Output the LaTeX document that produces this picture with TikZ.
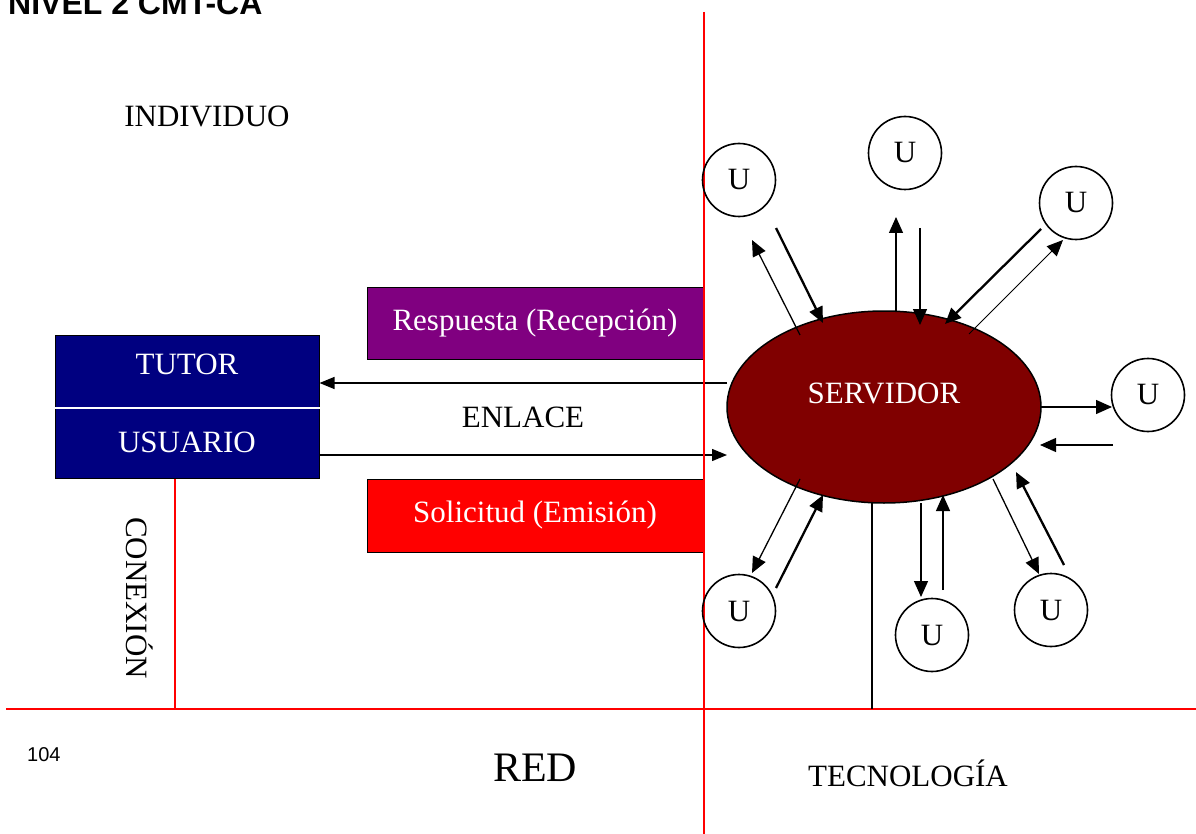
\documentclass[tikz,border=0pt]{standalone}
\usepackage{fontspec}
\setmainfont{Liberation Serif}
\newfontfamily\arialfont{Liberation Sans}
\usetikzlibrary{arrows.meta,shapes.geometric}
\definecolor{navybox}{HTML}{000080}
\definecolor{purplebox}{HTML}{800080}
\definecolor{redbox}{HTML}{FF0000}
\definecolor{servercol}{HTML}{800000}
\begin{document}
\begin{tikzpicture}[x=1pt,y=-1pt,
  txt/.style={font=\fontsize{31}{36}\selectfont, inner sep=0pt},
  wtxt/.style={txt, text=white},
  panel/.style={draw=black, line width=1pt, inner sep=0pt},
  axis/.style={draw=red, line width=1.5pt},
  ucirc/.style={circle, draw=black, line width=1.6pt, minimum size=73pt, inner sep=0pt, font=\fontsize{31}{36}\selectfont},
  thinarr/.style={line width=1.3pt, -{Triangle[length=16pt,width=14pt]}},
  thickarr/.style={line width=2.3pt, -{Triangle[length=16pt,width=14pt]}},
  linkarr/.style={line width=1.3pt, -{Triangle[length=15pt,width=12pt]}}
]
\clip (0,0) rectangle (1196,834);
\fill[white] (0,0) rectangle (1196,834);

% heading and page number
\node[anchor=base west, inner sep=0pt, font=\arialfont\bfseries\fontsize{32}{36}\selectfont] (title) at (8,15) {NIVEL 2 CMT-CA};
\node[anchor=base west, inner sep=0pt, font=\arialfont\fontsize{20}{24}\selectfont] (page) at (27,761) {104};

% quadrant labels
\node[txt] (indiv) at (207,116) {INDIVIDUO};
\node[txt, font=\fontsize{42}{48}\selectfont] (red) at (535,768) {RED};
\node[txt] (tecno) at (908,773) {TECNOLOGÍA};
\node[txt, rotate=-90] (conex) at (140,598) {CONEXIÓN};

% tutor / user block
\node[panel, fill=navybox, minimum width=264pt, minimum height=143pt] (box) at (187,406.5) {};
\draw[white, line width=1.3pt] (box.west |- 0,408) -- (box.east |- 0,408);
\node[wtxt] (tutor) at (187,364) {TUTOR};
\node[wtxt] (usuario) at (187,442) {USUARIO};

% request / response bars
\node[panel, fill=purplebox, minimum width=336pt, minimum height=72pt] (resp) at (535,323) {};
\node[wtxt] at (resp.center) {Respuesta (Recepción)};
\node[panel, fill=redbox, minimum width=336pt, minimum height=73pt] (sol) at (535,515.5) {};
\node[wtxt] at (sol.center) {Solicitud (Emisión)};
\node[txt] (enlace) at (523,417) {ENLACE};

% server
\node[ellipse, draw=black, line width=1.5pt, fill=servercol, minimum width=314pt, minimum height=192pt, inner sep=0pt] (srv) at (884,407) {};
\node[wtxt] (srvtxt) at (884,393) {SERVIDOR};

% link arrows between block and server
\coordinate (srvA) at (727,383);
\coordinate (srvB) at (727,455);
\draw[linkarr] (srvA) -- (box.east |- srvA);
\draw[linkarr] (box.east |- srvB) -- (srvB);

% quadrant axes
\draw[axis] (704,12) -- (704,834);
\draw[axis] (6,709) -- (1196,709);
\draw[axis] (box.south -| 175,0) -- (175,709);
\draw[black, line width=1.3pt] (872,503) -- (872,709);

% users
\node[ucirc] (u1) at (739,180) {U};
\node[ucirc] (u2) at (905,153) {U};
\node[ucirc] (u3) at (1076,203) {U};
\node[ucirc] (u4) at (1148,395) {U};
\node[ucirc] (u5) at (1051,610) {U};
\node[ucirc] (u6) at (932,635) {U};
\node[ucirc] (u7) at (739,611) {U};

% end points of the user exchanges
\coordinate (a1s) at (800,335); \coordinate (a1e) at (752,240);
\coordinate (b1s) at (776,228); \coordinate (b1e) at (823,323);
\coordinate (a2s) at (896,312); \coordinate (a2e) at (896,217);
\coordinate (b2s) at (920,228); \coordinate (b2e) at (920,325);
\coordinate (b3s) at (1041,229); \coordinate (b3e) at (945,324);
\coordinate (a3s) at (969,334); \coordinate (a3e) at (1063,240);
\coordinate (a4s) at (1040,407); \coordinate (a4e) at (1112,407);
\coordinate (b4s) at (1113,445); \coordinate (b4e) at (1040,445);
\coordinate (a5s) at (993,479); \coordinate (a5e) at (1039,574);
\coordinate (b5s) at (1064,565); \coordinate (b5e) at (1016,472);
\coordinate (a6s) at (921,503); \coordinate (a6e) at (921,597);
\coordinate (b6s) at (943,590); \coordinate (b6e) at (943,495);
\coordinate (a7s) at (800,479); \coordinate (a7e) at (752,573);
\coordinate (b7s) at (776,588); \coordinate (b7e) at (823,495);

\draw[thinarr] (a1s) -- (a1e);
\draw[thickarr] (b1s) -- (b1e);
\draw[thinarr] (a2s) -- (a2e);
\draw[thinarr] (b2s) -- (b2e);
\draw[thickarr] (b3s) -- (b3e);
\draw[line width=1pt, -{Triangle[length=16pt,width=14pt]}] (a3s) -- (a3e);
\draw[thinarr] (a4s) -- (a4e);
\draw[thinarr] (b4s) -- (b4e);
\draw[thinarr] (a5s) -- (a5e);
\draw[thickarr] (b5s) -- (b5e);
\draw[thinarr] (a6s) -- (a6e);
\draw[thinarr] (b6s) -- (b6e);
\draw[thinarr] (a7s) -- (a7e);
\draw[thickarr] (b7s) -- (b7e);
\end{tikzpicture}
\end{document}
